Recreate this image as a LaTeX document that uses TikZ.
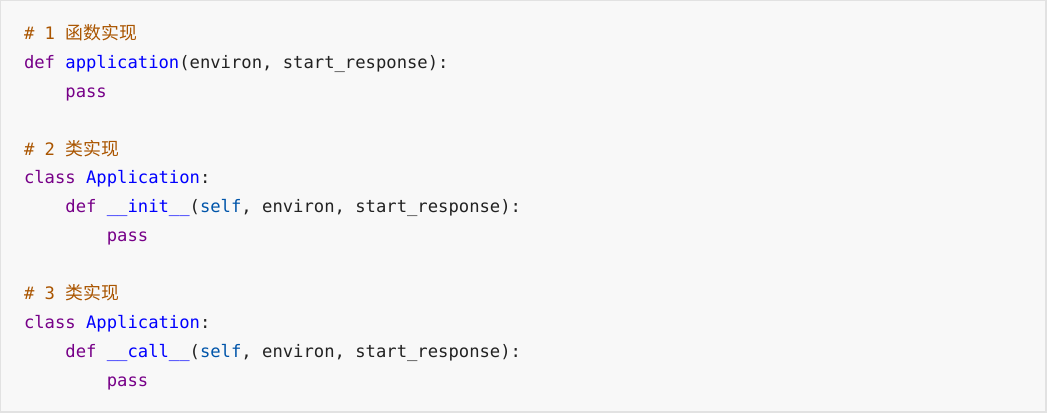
\documentclass[tikz,border=0pt]{standalone}
\usepackage{fontspec}
\newfontfamily\codefont{DejaVu Sans Mono}
\newfontfamily\cjk{Noto Sans CJK SC}
\definecolor{bgc}{HTML}{F8F8F8}
\definecolor{edgec}{HTML}{E2E2E2}
\definecolor{cmt}{HTML}{AA5500}
\definecolor{kw}{HTML}{770088}
\definecolor{fn}{HTML}{0000FF}
\definecolor{vr}{HTML}{0055AA}
\definecolor{tx}{HTML}{222222}
\newcommand{\cm}[1]{\textcolor{cmt}{#1}}
\newcommand{\kwd}[1]{\textcolor{kw}{#1}}
\newcommand{\fnc}[1]{\textcolor{fn}{#1}}
\newcommand{\vrb}[1]{\textcolor{vr}{#1}}
\newcommand{\zh}[1]{{\cjk\fontsize{13.4pt}{16pt}\selectfont #1}}
\begin{document}
\begin{tikzpicture}[x=0.75pt,y=-0.75pt,
  codeline/.style={anchor=base west,inner sep=0pt,outer sep=0pt,text=tx,
    font=\codefont\fontsize{12.9pt}{16pt}\selectfont}]
\useasboundingbox (0,0) rectangle (1047,413);
\fill[bgc] (0,0) rectangle (1047,413);
\draw[edgec,line width=0.75pt] (0.5,0.5) rectangle (1045.5,411.5);
\draw[edgec,line width=1.5pt] (1046,0) -- (1046,413);
\draw[edgec,line width=1.5pt] (0,412) -- (1047,412);
\def\bx{24}
\node[codeline] (l1) at (\bx,39.5) {\cm{\# 1 \zh{函数实现}}};
\node[codeline] (l2) at (\bx,68.4) {\kwd{def} \fnc{application}(environ, start\_response):};
\node[codeline] (l3) at (\bx,97.3) {\phantom{xxxx}\kwd{pass}};
\node[codeline] (l5) at (\bx,155.1) {\cm{\# 2 \zh{类实现}}};
\node[codeline] (l6) at (\bx,184.0) {\kwd{class} \fnc{Application}:};
\node[codeline] (l7) at (\bx,212.9) {\phantom{xxxx}\kwd{def} \fnc{\_\_init\_\_}(\vrb{self}, environ, start\_response):};
\node[codeline] (l8) at (\bx,241.8) {\phantom{xxxxxxxx}\kwd{pass}};
\node[codeline] (l10) at (\bx,299.6) {\cm{\# 3 \zh{类实现}}};
\node[codeline] (l11) at (\bx,328.5) {\kwd{class} \fnc{Application}:};
\node[codeline] (l12) at (\bx,357.4) {\phantom{xxxx}\kwd{def} \fnc{\_\_call\_\_}(\vrb{self}, environ, start\_response):};
\node[codeline] (l13) at (\bx,386.3) {\phantom{xxxxxxxx}\kwd{pass}};
\end{tikzpicture}
\end{document}
